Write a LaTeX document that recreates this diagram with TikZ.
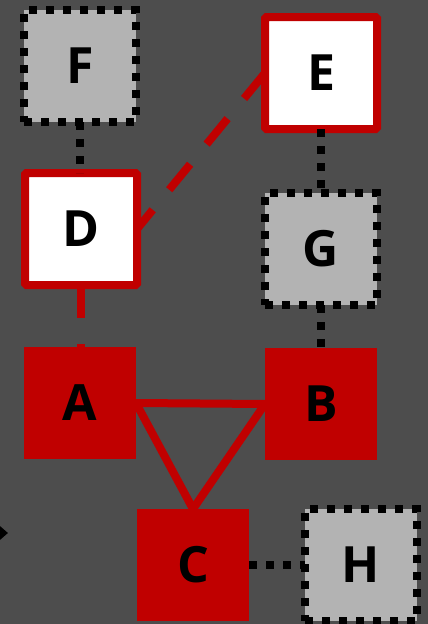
\documentclass[tikz,border=0pt]{standalone}
\usepackage{fontspec}
\setmainfont{Open Sans}
\usepackage{xcolor}
\usepackage{tikz}
\usetikzlibrary{shapes.geometric}
\definecolor{bgdark}{HTML}{4D4D4D}
\definecolor{boxred}{HTML}{C00000}
\definecolor{boxgray}{HTML}{B3B3B3}
\tikzstyle{node:box}=[rectangle,minimum size=112pt,inner sep=0pt,outer sep=0pt,font=\fontsize{50}{50}\selectfont\bfseries]
\tikzstyle{node:gray}=[node:box,fill=boxgray,draw=black,line width=8pt,dash pattern=on 8pt off 9pt]
\tikzstyle{node:white}=[node:box,fill=white,draw=boxred,line width=8pt,rounded corners=1.5pt]
\tikzstyle{node:red}=[node:box,fill=boxred]
\tikzstyle{draw:dotted}=[black,line width=8pt,dash pattern=on 8pt off 9pt]
\tikzstyle{draw:dashed}=[boxred,line width=8pt,dash pattern=on 33pt off 26pt]
\tikzstyle{draw:solid}=[boxred,line width=8pt]

\begin{document}
\begin{tikzpicture}[x=1pt,y=-1pt]
        % Background
        \fill[bgdark] (0,0) rectangle (428,624);
        \useasboundingbox (0,0) rectangle (428,624);

        % Top rows
        \node[node:gray] (F) at (80,66) {F};
        \node[node:white] (E) at (321,73) {E};
        \node[node:white] (D) at (81,229) {D};
        \node[node:gray] (G) at (321,249) {G};

        % Bottom rows
        \node[node:red] (A) at (80,403) {A};
        \node[node:red] (B) at (321,404) {B};
        \node[node:red] (C) at (193,565) {C};
        \node[node:gray] (H) at (361,565) {H};

        % Left marker
        \node[diamond,fill=black,inner sep=0pt,minimum width=16pt,minimum height=14pt] (M) at (0,533) {};

        % Dotted connections
        \draw[draw:dotted] (F.south) -- (D.north -| F.south);
        \draw[draw:dotted] (E.south) -- (G.north);
        \draw[draw:dotted] (G.south) -- (B.north -| G.south);
        \draw[draw:dotted] (C.east) -- (H.west);

        % Dashed connections
        \draw[draw:dashed] (E.west) -- (D.east);
        \draw[draw:dashed] (D.south) -- (A.north -| D.south);

        % Solid triangle between A, B and C
        \draw[draw:solid] (A.east) -- (B.west);
        \draw[draw:solid] (A.east) -- (C.north);
        \draw[draw:solid] (B.west) -- (C.north);
\end{tikzpicture}
\end{document}
